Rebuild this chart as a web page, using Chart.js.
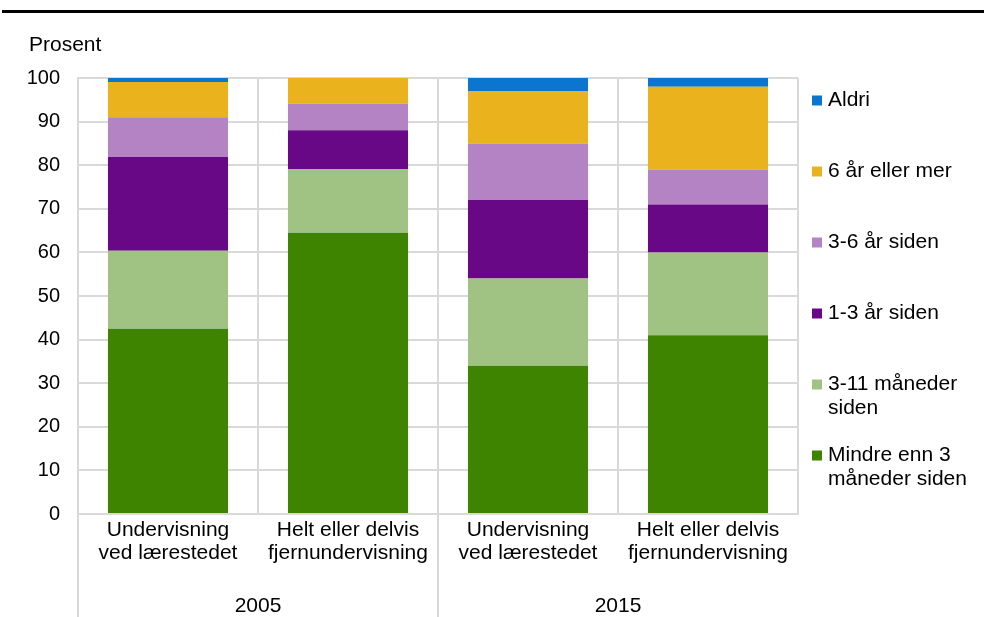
<!DOCTYPE html>
<html>
<head>
<meta charset="utf-8">
<script src="https://cdn.jsdelivr.net/npm/chart.js@4/dist/chart.umd.min.js"></script>
<style>
  html, body { margin: 0; padding: 0; background: #fff; }
  canvas { display: block; }
</style>
</head>
<body>
<canvas id="chart" width="984" height="617"></canvas>
<script>
const categories = [
  ['Undervisning', 'ved lærestedet'],
  ['Helt eller delvis', 'fjernundervisning'],
  ['Undervisning', 'ved lærestedet'],
  ['Helt eller delvis', 'fjernundervisning'],
];
const groups = ['2005', '2015'];

// legend lines per series, bottom of the stack first
const seriesNames = [
  ['Mindre enn 3', 'måneder siden'],
  ['3-11 måneder', 'siden'],
  ['1-3 år siden'],
  ['3-6 år siden'],
  ['6 år eller mer'],
  ['Aldri'],
];
const lessThan3Months = [42.5, 64.5, 34, 41];
const months3to11 = [17.9, 14.6, 20, 19];
const years1to3 = [21.5, 8.9, 18, 11];
const years3to6 = [9.1, 6.1, 13, 8];
const years6OrMore = [8.1, 5.9, 12, 19];
const never = [0.9, 0, 3, 2];

const yMin = 0;
const yMax = 100;
const yStep = 10;
const yTitle = 'Prosent';

const seriesValues = [lessThan3Months, months3to11, years1to3, years3to6, years6OrMore, never];
const seriesColors = ['#3f8400', '#a0c384', '#690886', '#b383c3', '#eab31e', '#0b76d0'];

const FONT = '"Liberation Sans", Arial, sans-serif';
const GRID = '#d9d9d9';

const extras = {
  id: 'extras',
  afterDraw(chart) {
    const { ctx, chartArea, scales } = chart;
    const x = scales.x;
    ctx.save();

    // header rule (title is cut off above)
    ctx.fillStyle = '#000';
    ctx.fillRect(2, 10, chart.width - 2, 3);

    ctx.font = '21px ' + FONT;
    ctx.fillStyle = '#000';
    ctx.textBaseline = 'middle';
    ctx.textAlign = 'left';
    ctx.fillText(yTitle, 29, 45);

    // second level of the category axis
    const step = x.getPixelForValue(1) - x.getPixelForValue(0);
    const perGroup = categories.length / groups.length;
    ctx.strokeStyle = GRID;
    ctx.lineWidth = 2;
    groups.forEach((g, gi) => {
      const first = gi * perGroup;
      const left = x.getPixelForValue(first) - step / 2;
      const right = x.getPixelForValue(first + perGroup - 1) + step / 2;
      ctx.beginPath();
      ctx.moveTo(left, chartArea.bottom);
      ctx.lineTo(left, chart.height);
      ctx.stroke();
      ctx.textAlign = 'center';
      ctx.fillText(g, (left + right) / 2, 606);
    });

    // legend, top item = last series
    const boxX = chartArea.right + 14;
    const textX = chartArea.right + 30;
    const itemStep = 71;
    const lineH = 23.5;
    ctx.textAlign = 'left';
    for (let k = 0; k < seriesNames.length; k++) {
      const si = seriesNames.length - 1 - k;
      const cy = chartArea.top + 22.5 + k * itemStep;
      ctx.fillStyle = seriesColors[si];
      ctx.fillRect(boxX, cy - 5, 10, 10);
      ctx.fillStyle = '#000';
      seriesNames[si].forEach((line, li) => {
        ctx.fillText(line, textX, cy + li * lineH);
      });
    }
    ctx.restore();
  },
};

new Chart(document.getElementById('chart'), {
  type: 'bar',
  data: {
    labels: categories,
    datasets: seriesValues.map((values, i) => ({
      label: seriesNames[i].join(' '),
      data: values,
      backgroundColor: seriesColors[i],
      borderWidth: 0,
      barPercentage: 0.667,
      categoryPercentage: 1,
    })),
  },
  options: {
    responsive: false,
    animation: false,
    layout: { padding: { top: 78, right: 186, left: 0, bottom: 0 } },
    plugins: {
      legend: { display: false },
      tooltip: { enabled: false },
    },
    scales: {
      x: {
        stacked: true,
        grid: { color: GRID, lineWidth: 2, offset: true, drawTicks: false },
        border: { color: GRID, width: 2 },
        ticks: {
          color: '#000',
          font: { family: FONT, size: 21, lineHeight: 1.1 },
          padding: 5,
          maxRotation: 0,
          autoSkip: false,
        },
        afterFit(scale) { scale.height = 103; },
      },
      y: {
        stacked: true,
        min: yMin,
        max: yMax,
        grid: { color: GRID, lineWidth: 2, drawTicks: false },
        border: { color: GRID, width: 2 },
        ticks: {
          stepSize: yStep,
          color: '#000',
          font: { family: FONT, size: 20 },
          padding: 18,
        },
        afterFit(scale) { scale.width = 78; },
      },
    },
  },
  plugins: [extras],
});
</script>
</body>
</html>
